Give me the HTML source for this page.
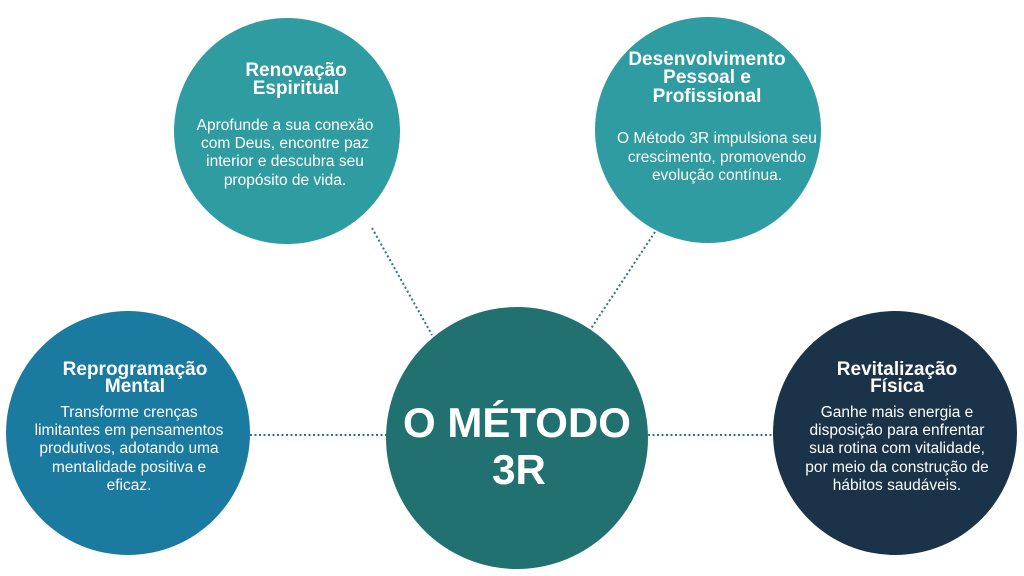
<!DOCTYPE html>
<html><head><meta charset="utf-8"><style>html,body{margin:0;padding:0;background:#fff}svg{display:block}</style></head>
<body>
<svg width="1024" height="576" viewBox="0 0 1024 576" xmlns="http://www.w3.org/2000/svg" font-family="Liberation Sans, sans-serif" fill="#fff">
<g stroke="#2a7a7c" stroke-width="2" stroke-dasharray="2 2.5" fill="none">
<line x1="372" y1="228" x2="432" y2="335"/>
<line x1="655" y1="232" x2="590" y2="330"/>
<line x1="250" y1="435" x2="388" y2="435"/>
<line x1="648" y1="435" x2="774" y2="435"/>
</g>
<circle cx="287" cy="131" r="113" fill="#2f9ca2"/>
<circle cx="708" cy="130" r="113" fill="#2f9ca2"/>
<circle cx="128" cy="433" r="122" fill="#1b7aa0"/>
<circle cx="895" cy="433" r="122" fill="#1a3349"/>
<circle cx="517" cy="438" r="131" fill="#227171"/>
<g text-anchor="middle">
<g font-weight="bold" font-size="19">
<text x="296" y="76">Renovação</text><text x="296" y="94">Espiritual</text>
<text x="707" y="65">Desenvolvimento</text><text x="707" y="83">Pessoal e</text><text x="707" y="102">Profissional</text>
<text x="135" y="375">Reprogramação</text><text x="135" y="392">Mental</text>
<text x="897" y="375">Revitalização</text><text x="897" y="392">Física</text>
</g>
<g font-size="15.5">
<text x="285" y="130">Aprofunde a sua conexão</text><text x="285" y="148">com Deus, encontre paz</text><text x="285" y="166">interior e descubra seu</text><text x="285" y="185">propósito de vida.</text>
<text x="717" y="143">O Método 3R impulsiona seu</text><text x="717" y="162">crescimento, promovendo</text><text x="717" y="180">evolução contínua.</text>
<text x="129" y="417">Transforme crenças</text><text x="129" y="435">limitantes em pensamentos</text><text x="129" y="453">produtivos, adotando uma</text><text x="129" y="472">mentalidade positiva e</text><text x="129" y="490">eficaz.</text>
<text x="897" y="417">Ganhe mais energia e</text><text x="897" y="435">disposição para enfrentar</text><text x="897" y="453">sua rotina com vitalidade,</text><text x="897" y="472">por meio da construção de</text><text x="897" y="490">hábitos saudáveis.</text>
</g>
<g font-weight="bold" font-size="42">
<text x="517" y="437">O MÉTODO</text><text x="519" y="484">3R</text>
</g>
</g>
</svg>
</body></html>
